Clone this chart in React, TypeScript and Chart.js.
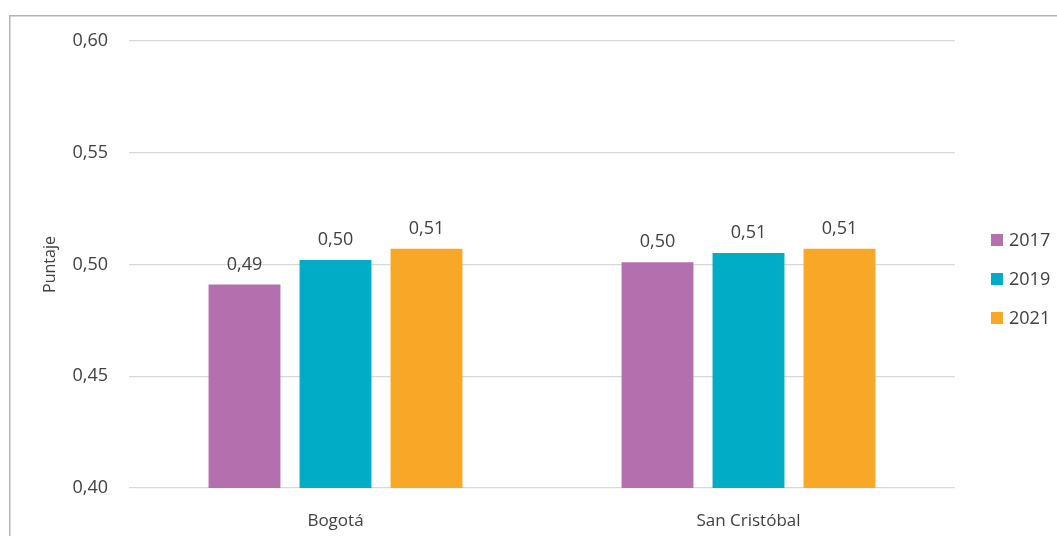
import React, { useEffect, useRef } from "react";
import { Chart, registerables } from "chart.js";

Chart.register(...registerables);

const categories = ["Bogotá", "San Cristóbal"];
const seriesLabels = ["2017", "2019", "2021"];
const values2017 = [0.491, 0.501];
const values2019 = [0.502, 0.5052];
const values2021 = [0.507, 0.507];
const seriesColors = ["#B46FAE", "#00ACC6", "#F8A826"];
const yTicks = [0.4, 0.45, 0.5, 0.55, 0.6];

const FONT = "'Open Sans', 'DejaVu Sans', sans-serif";
const TEXT = "#404040";

const fmt = (v: number) => v.toFixed(2).replace(".", ",");

const frame = {
  id: "frame",
  beforeDraw(chart: any) {
    const ctx = chart.ctx;
    ctx.save();
    ctx.fillStyle = "#ffffff";
    ctx.fillRect(0, 0, chart.width, chart.height);
    ctx.strokeStyle = "#B4B4B4";
    ctx.lineWidth = 1.5;
    ctx.beginPath();
    ctx.moveTo(9.75, chart.height);
    ctx.lineTo(9.75, 15.75);
    ctx.lineTo(chart.width, 15.75);
    ctx.stroke();
    ctx.restore();
  },
  afterDatasetsDraw(chart: any) {
    const ctx = chart.ctx;
    ctx.save();
    ctx.font = `18px ${FONT}`;
    ctx.fillStyle = TEXT;
    ctx.textAlign = "center";
    ctx.textBaseline = "alphabetic";
    chart.data.datasets.forEach((ds: any, i: number) => {
      const meta = chart.getDatasetMeta(i);
      meta.data.forEach((bar: any, j: number) => {
        ctx.fillText(fmt(ds.data[j]), bar.x, bar.y - 15);
      });
    });
    // legend
    const x0 = 991;
    const yc = 240;
    const gap = 39;
    ctx.textAlign = "left";
    ctx.textBaseline = "middle";
    chart.data.datasets.forEach((ds: any, i: number) => {
      const y = yc + i * gap;
      ctx.fillStyle = ds.backgroundColor;
      ctx.fillRect(x0, y - 6, 12, 12);
      ctx.fillStyle = TEXT;
      ctx.fillText(ds.label, x0 + 18, y + 1);
    });
    ctx.restore();
  },
};

export default function App() {
  const ref = useRef<HTMLCanvasElement>(null);
  useEffect(() => {
    if (!ref.current) return;
    const series = [values2017, values2019, values2021];
    const chart = new Chart(ref.current, {
      type: "bar",
      data: {
        labels: categories,
        datasets: series.map((d, i) => ({
          label: seriesLabels[i],
          data: d,
          backgroundColor: seriesColors[i],
          categoryPercentage: 0.661,
          barPercentage: 0.79,
          borderWidth: 0,
        })),
      },
      options: {
        animation: false,
        responsive: false,
        maintainAspectRatio: false,
        layout: { padding: { left: 0, right: 102, top: 41, bottom: 0 } },
        plugins: {
          legend: { display: false },
          tooltip: { enabled: false },
        },
        scales: {
          x: {
            grid: { display: false },
            border: { display: false },
            ticks: { color: TEXT, font: { family: FONT, size: 17 }, padding: 15 },
            afterFit: (s: any) => {
              s.height = 48;
            },
          },
          y: {
            min: 0.4,
            max: 0.6,
            afterBuildTicks: (s: any) => {
              s.ticks = yTicks.map((v) => ({ value: v }));
            },
            grid: { color: "#D9D9D9", lineWidth: 1.3, drawTicks: false },
            border: { display: false },
            ticks: {
              color: TEXT,
              font: { family: FONT, size: 18 },
              padding: 21,
              callback: (v: any) => fmt(Number(v)),
            },
            title: {
              display: true,
              text: "Puntaje",
              color: TEXT,
              font: { family: FONT, size: 16 },
              padding: { top: 41, bottom: 0 },
            },
            afterFit: (s: any) => {
              s.width = 129;
            },
          },
        },
      },
      plugins: [frame],
    });
    return () => chart.destroy();
  }, []);
  return (
    <div style={{ position: "fixed", left: 0, top: 0, width: 1057, height: 536, overflow: "hidden" }}>
      <canvas ref={ref} width={1057} height={536} style={{ display: "block" }} />
    </div>
  );
}
